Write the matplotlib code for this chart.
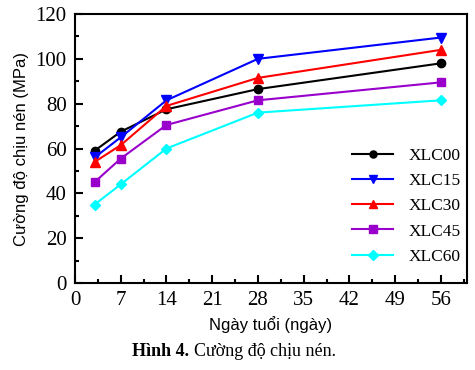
import matplotlib
matplotlib.use("Agg")
import matplotlib.pyplot as plt
from matplotlib.ticker import MultipleLocator

days = [3, 7, 14, 28, 56]
xlc00 = [59, 67.5, 77.5, 86.5, 98]
xlc15 = [56, 65, 81.5, 100, 109.5]
xlc30 = [54, 61.5, 79, 91.5, 104]
xlc45 = [45, 55.5, 70.5, 81.5, 89.5]
xlc60 = [35, 44, 60, 76, 81.5]
names = ["XLC00", "XLC15", "XLC30", "XLC45", "XLC60"]
xticks = [0, 7, 14, 21, 28, 35, 42, 49, 56]
yticks = [0, 20, 40, 60, 80, 100, 120]

series = [xlc00, xlc15, xlc30, xlc45, xlc60]
colors = ["black", "#0000ff", "#ff0000", "#9900cc", "#00ffff"]
markers = ["o", "v", "^", "s", "D"]
msizes = [6, 7, 7, 6, 5.5]

fig = plt.figure(figsize=(4.75, 3.7), dpi=100)
ax = fig.add_axes([75/475, 1-283/370, (467-75)/475, (283-14)/370])
for ys, c, m, ms, n in zip(series, colors, markers, msizes, names):
    ax.plot(days, ys, color=c, marker=m, markersize=ms, lw=1.5, label=n)

ax.set_xlim(0, 60)
ax.set_ylim(0, 120)
ax.set_xticks(xticks)
ax.set_yticks(yticks)
ax.xaxis.set_minor_locator(MultipleLocator(3.5))
ax.yaxis.set_minor_locator(MultipleLocator(10))
serif = "Liberation Serif"
sans = "Liberation Sans"
ax.tick_params(which="both", direction="in", top=False, right=False, width=1.5)
ax.tick_params(which="major", length=6, labelsize=15, pad=6)
ax.tick_params(which="minor", length=3)
for lab in ax.get_xticklabels() + ax.get_yticklabels():
    lab.set_fontfamily(serif)
for s in ax.spines.values():
    s.set_linewidth(1.5)
ax.set_xlabel("Ngày tuổi (ngày)", fontfamily=sans, fontsize=12, labelpad=4)
ax.set_ylabel("Cường độ chịu nén (MPa)", fontfamily=sans, fontsize=12, labelpad=5)
leg = ax.legend(loc="lower right", frameon=False, prop={"family": serif, "size": 12.5},
                handlelength=2.4, labelspacing=0.52, handletextpad=0.9, markerscale=0.85,
                bbox_to_anchor=(1.025, 0.01))
y_cap = 1 - 352/370
t1 = fig.text(132/475, y_cap, "Hình 4.", fontfamily=serif, fontsize=13, fontweight="bold", va="center")
fig.canvas.draw()
bb = t1.get_window_extent()
fig.text((bb.x1 + 5)/475, y_cap, "Cường độ chịu nén.", fontfamily=serif, fontsize=13, va="center")
fig.savefig("out.png", dpi=100)
